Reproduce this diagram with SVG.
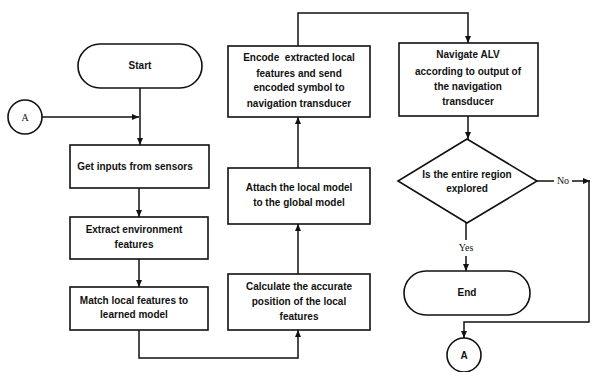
<svg xmlns="http://www.w3.org/2000/svg" width="592" height="372" viewBox="0 0 592 372">
<defs>
<marker id="arr" markerWidth="8" markerHeight="8" refX="7" refY="4" orient="auto" markerUnits="userSpaceOnUse">
<path d="M0,1 L7,4 L0,7 Z" fill="#111"/>
</marker>
<style>
.box{fill:#fff;stroke:#111;stroke-width:1.6}
.ln{fill:none;stroke:#111;stroke-width:1.5}
text{font-family:"Liberation Sans",Arial,sans-serif;font-size:10px;font-weight:bold;fill:#111;text-anchor:middle}
.ser{font-family:"Liberation Serif","Times New Roman",serif;font-weight:normal;font-size:10px}
</style>
</defs>
<rect width="592" height="372" fill="#fff"/>
<g id="connectors">
<path class="ln" d="M42,117 H139" marker-end="url(#arr)"/>
<path class="ln" d="M140,88 V145" marker-end="url(#arr)"/>
<path class="ln" d="M139,188 V217" marker-end="url(#arr)"/>
<path class="ln" d="M139,259 V287" marker-end="url(#arr)"/>
<path class="ln" d="M139,330 V358 H298 V330" marker-end="url(#arr)"/>
<path class="ln" d="M298,274 V224" marker-end="url(#arr)"/>
<path class="ln" d="M298,168 V117" marker-end="url(#arr)"/>
<path class="ln" d="M298,46 V13 H468 V43" marker-end="url(#arr)"/>
<path class="ln" d="M468,116 V139" marker-end="url(#arr)"/>
<path class="ln" d="M466,223 V240 M466,256 V271" marker-end="url(#arr)"/>
<path class="ln" d="M537,181 H554"/>
<path class="ln" d="M572,181 H590" marker-end="url(#arr)"/>
<path class="ln" d="M589,181 V322 H464 V338" marker-end="url(#arr)"/>
</g>
<g id="start"><rect class="box" x="78" y="44" width="124" height="44" rx="22"/><text x="140" y="69">Start</text></g>
<g id="connA1"><circle class="box" cx="25" cy="117" r="17"/><text class="ser" x="25" y="121">A</text></g>
<g id="getinputs"><rect class="box" x="70" y="145" width="139" height="43"/><text x="135" y="170">Get inputs from sensors</text></g>
<g id="extract"><rect class="box" x="70" y="217" width="138" height="42"/><text x="134" y="233">Extract environment</text><text x="134" y="248">features</text></g>
<g id="match"><rect class="box" x="70" y="287" width="138" height="43"/><text x="134" y="304">Match local features to</text><text x="134" y="318">learned model</text></g>
<g id="calculate"><rect class="box" x="228" y="274" width="142" height="56"/><text x="299" y="290">Calculate the accurate</text><text x="299" y="305">position of the local</text><text x="299" y="320">features</text></g>
<g id="attach"><rect class="box" x="228" y="168" width="142" height="56"/><text x="299" y="191">Attach the local model</text><text x="299" y="206">to the global model</text></g>
<g id="encode"><rect class="box" x="228" y="46" width="142" height="71"/><text x="299" y="61" style="white-space:pre">Encode  extracted local</text><text x="299" y="77">features and send</text><text x="299" y="91">encoded symbol to</text><text x="299" y="107">navigation transducer</text></g>
<g id="navigate"><rect class="box" x="399" y="43" width="139" height="73"/><text x="468" y="58">Navigate ALV</text><text x="468" y="75">according to output of</text><text x="468" y="90">the navigation</text><text x="468" y="105">transducer</text></g>
<g id="decision"><polygon class="box" points="467,139 537,181 467,223 398,181"/><text x="467" y="178">Is the entire region</text><text x="467" y="192">explored</text></g>
<g id="lblNo"><text class="ser" x="563" y="184">No</text></g>
<g id="lblYes"><text class="ser" x="466" y="251">Yes</text></g>
<g id="end"><rect class="box" x="404" y="271" width="126" height="44" rx="22"/><text x="467" y="296">End</text></g>
<g id="connA2"><circle class="box" cx="464" cy="355" r="17"/><text x="464" y="359">A</text></g>
</svg>
